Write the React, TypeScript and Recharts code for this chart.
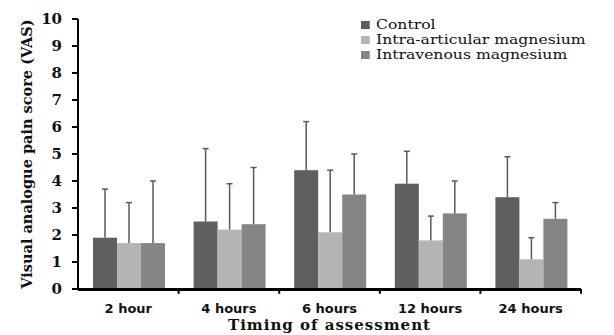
import React from 'react';
import { BarChart, Bar, XAxis, YAxis, Label, ReferenceLine, ReferenceArea } from 'recharts';

const categories = ['2 hour', '4 hours', '6 hours', '12 hours', '24 hours'];
const controlMean = [1.9, 2.5, 4.4, 3.9, 3.4];
const controlUpper = [3.7, 5.2, 6.2, 5.1, 4.9];
const intraArticularMean = [1.7, 2.2, 2.1, 1.8, 1.1];
const intraArticularUpper = [3.2, 3.9, 4.4, 2.7, 1.9];
const intravenousMean = [1.7, 2.4, 3.5, 2.8, 2.6];
const intravenousUpper = [4.0, 4.5, 5.0, 4.0, 3.2];
const yTicks = [0, 1, 2, 3, 4, 5, 6, 7, 8, 9, 10];

const seriesNames = ['Control', 'Intra-articular magnesium', 'Intravenous magnesium'];
const seriesColors = ['#5f5f5f', '#b4b4b4', '#858585'];

const data = categories.map((c, i) => ({
  name: c,
  control: controlMean[i],
  controlErr: +(controlUpper[i] - controlMean[i]).toFixed(2),
  intra: intraArticularMean[i],
  intraErr: +(intraArticularUpper[i] - intraArticularMean[i]).toFixed(2),
  iv: intravenousMean[i],
  ivErr: +(intravenousUpper[i] - intravenousMean[i]).toFixed(2),
}));

const serif = '"DejaVu Serif", serif';
const sans = '"DejaVu Sans", sans-serif';
const TICK_DEPTH = -0.18;

const Whisker = (props: any) => {
  const { x, y, width, height } = props;
  if (x == null || y == null) return <g />;
  const cx = x + width / 2;
  return (
    <g>
      <line x1={cx} y1={y + height} x2={cx} y2={y} stroke="#5a5a5a" strokeWidth={1.5} />
      <line x1={cx - 3} y1={y} x2={cx + 3} y2={y} stroke="#5a5a5a" strokeWidth={1.5} />
    </g>
  );
};

const BaseBar = (props: any) => {
  const { x, y, width, height, fill } = props;
  if (x == null || y == null) return <g />;
  return <rect x={x} y={y} width={width} height={height} fill={fill} />;
};

const YLabel = (props: any) => {
  const vb = props.viewBox || { x: 0, y: 0, width: 0, height: 0 };
  const cx = vb.x + 26;
  const cy = vb.y + vb.height / 2;
  return (
    <text
      x={cx}
      y={cy}
      transform={`rotate(-90, ${cx}, ${cy})`}
      textAnchor="middle"
      dominantBaseline="central"
      fontFamily={serif}
      fontWeight="bold"
      fontSize={14.5}
      fill="#111"
    >
      Visual analogue pain score (VAS)
    </text>
  );
};

const LegendBox = () => (
  <div
    style={{
      position: 'absolute',
      left: 361,
      top: 17,
      fontFamily: serif,
      fontSize: 12.5,
      color: '#111',
      lineHeight: '15px',
      transform: 'scaleX(1.25)',
      transformOrigin: '0 0',
      whiteSpace: 'nowrap',
    }}
  >
    {seriesNames.map((n, i) => (
      <div key={n} style={{ display: 'flex', alignItems: 'center' }}>
        <span style={{ display: 'inline-block', width: 7, height: 8, background: seriesColors[i], marginRight: 5 }} />
        <span>{n}</span>
      </div>
    ))}
  </div>
);

export default function App() {
  return (
    <div style={{ position: 'absolute', left: 0, top: 0, width: 614, height: 335, background: '#fff' }}>
      <BarChart
        width={614}
        height={335}
        data={data}
        margin={{ top: 19, right: 33, bottom: 4, left: 0 }}
        barCategoryGap={15}
        barGap={0}
      >
        <XAxis
          dataKey="name"
          height={42}
          axisLine={{ stroke: '#000', strokeWidth: 2 }}
          tickLine={false}
          tickSize={6}
          tickMargin={9}
          interval={0}
          tick={{ fontFamily: sans, fontWeight: 'bold', fontSize: 13, fill: '#111' }}
        >
          <Label
            value="Timing of assessment"
            position="insideBottom"
            offset={1}
            style={{ fontFamily: serif, fontWeight: 'bold', fontSize: 15, letterSpacing: 1, fill: '#111' }}
          />
        </XAxis>
        <YAxis
          width={78}
          domain={[0, 10]}
          ticks={yTicks}
          interval={0}
          axisLine={{ stroke: '#000', strokeWidth: 2 }}
          tickLine={{ stroke: '#000', strokeWidth: 2 }}
          tickSize={6}
          tickMargin={10}
          tick={{ fontFamily: serif, fontWeight: 'bold', fontSize: 15, fill: '#111' }}
        >
          <Label content={<YLabel />} position="insideLeft" />
        </YAxis>
        <Bar stackId="c" dataKey="control" name={seriesNames[0]} fill={seriesColors[0]} shape={<BaseBar />} isAnimationActive={false} />
        <Bar stackId="c" dataKey="controlErr" fill="none" shape={<Whisker />} isAnimationActive={false} />
        <Bar stackId="i" dataKey="intra" name={seriesNames[1]} fill={seriesColors[1]} shape={<BaseBar />} isAnimationActive={false} />
        <Bar stackId="i" dataKey="intraErr" fill="none" shape={<Whisker />} isAnimationActive={false} />
        <Bar stackId="v" dataKey="iv" name={seriesNames[2]} fill={seriesColors[2]} shape={<BaseBar />} isAnimationActive={false} />
        <Bar stackId="v" dataKey="ivErr" fill="none" shape={<Whisker />} isAnimationActive={false} />
        <ReferenceArea
          x1={categories[0]}
          x2={categories[categories.length - 1]}
          y1={-0.07}
          y2={0}
          fill="#000"
          fillOpacity={1}
          stroke="none"
          ifOverflow="visible"
        />
        <ReferenceLine y={5} stroke="#ffffff" strokeOpacity={0} strokeWidth={2} />
        <ReferenceLine y={0} stroke="#000" strokeWidth={2} />
        {categories.slice(1).map((c) => (
          <ReferenceLine
            key={c}
            segment={[{ x: c, y: 0 }, { x: c, y: TICK_DEPTH }]}
            position="start"
            stroke="#000"
            strokeWidth={2}
            ifOverflow="visible"
          />
        ))}
        <ReferenceLine
          segment={[
            { x: categories[categories.length - 1], y: 0 },
            { x: categories[categories.length - 1], y: TICK_DEPTH },
          ]}
          position="end"
          stroke="#000"
          strokeWidth={2}
          ifOverflow="visible"
        />
      </BarChart>
      <LegendBox />
    </div>
  );
}
